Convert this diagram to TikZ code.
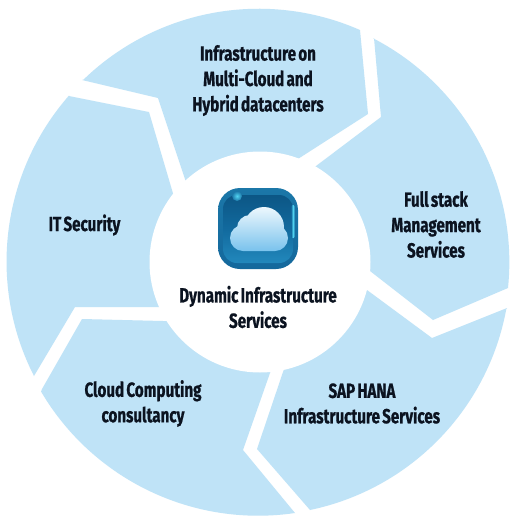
\documentclass[tikz,border=0pt]{standalone}
\usepackage{fontspec}
\newfontfamily\lab[FakeStretch=0.74,WordSpace=0.62,BoldFeatures={FakeBold=0.8}]{Fira Sans}
\definecolor{seg}{HTML}{BFE3F7}
\definecolor{ink}{HTML}{0B1320}
\definecolor{rim}{HTML}{1B77A8}
\definecolor{rimlow}{HTML}{14689C}
\definecolor{facetop}{HTML}{0C5685}
\definecolor{facemid}{HTML}{126A9E}
\definecolor{facelow}{HTML}{2288BC}
\definecolor{glow}{HTML}{52D4F2}
\definecolor{cloudtop}{HTML}{F2FAFE}
\definecolor{cloudlow}{HTML}{74C0EC}
\begin{document}
\begin{tikzpicture}[x=1pt,y=-1pt,
  segment/.style={fill=seg,draw=none},
  label/.style={align=center,inner sep=0pt,text=ink,font=\lab\bfseries\fontsize{20.5}{25.4}\selectfont},
  hub/.style={circle,fill=white,draw=none,minimum size=221pt,inner sep=0pt}]
\useasboundingbox[fill=white] (0,0) rectangle (513,520);
% segments
\path[segment] (82,80)--(158,98)--(184,176)--(200,224)--(250,189)--(301,157)--(368,114)--(360,30) arc[start angle=-66.3,end angle=-134,radius=252]--cycle;
\path[segment] (374,38)--(381,117)--(316,166)--(295,182)--(330,240)--(370,271)--(433,320)--(508,288) arc[start angle=5.9,end angle=-62.6,radius=252]--cycle;
\path[segment] (507,308)--(432,338)--(367,290)--(335,266)--(295,336)--(283,372)--(257,449)--(310,510) arc[start angle=78.2,end angle=10.5,radius=252]--cycle;
\path[segment] (42,389)--(82,319)--(163,321)--(220,321)--(280,345)--(270,373)--(243,450)--(295,513) arc[start angle=81.6,end angle=149.5,radius=252]--cycle;
\path[segment] (69,96)--(149,112)--(172,190)--(185,234)--(190,307)--(155,307)--(75,307)--(34,376) arc[start angle=153,end angle=221.3,radius=252]--cycle;
% hub
\node[hub] (hub) at (260,262) {};
% icon
\path[rounded corners=22pt,top color=rim,bottom color=rimlow] (218,188) rectangle (298,269);
\path[rounded corners=14pt,top color=facetop,bottom color=facelow,middle color=facemid] (223,195) rectangle (293,263);
\shade[inner color=glow,outer color=rim] (237,196) circle (5);
\shade[left color=facemid,right color=facemid,middle color=glow,rounded corners=1.5pt] (291,205) rectangle (295,238);
\begin{scope}
\clip (243,238) circle (13)
      (250,228) circle (13)
      (264,227) circle (20)
      (275,238) circle (13)
      (275,232) rectangle (243,251);
\path[top color=cloudtop,bottom color=cloudlow] (225,205) rectangle (293,253);
\end{scope}
% labels
\node[label] (top) at (258,80.5) {Infrastructure on\\Multi-Cloud and\\Hybrid datacenters};
\node[label] (right) at (436,224.5) {Full stack\\Management\\Services};
\node[label] (sap) at (362,403.5) {SAP HANA\\Infrastructure Services};
\node[label] (cloud) at (143,403.5) {Cloud Computing\\consultancy};
\node[label] (sec) at (84.5,225) {IT Security};
\node[label] (dyn) at (258,307) {Dynamic Infrastructure\\Services};
\end{tikzpicture}
\end{document}
